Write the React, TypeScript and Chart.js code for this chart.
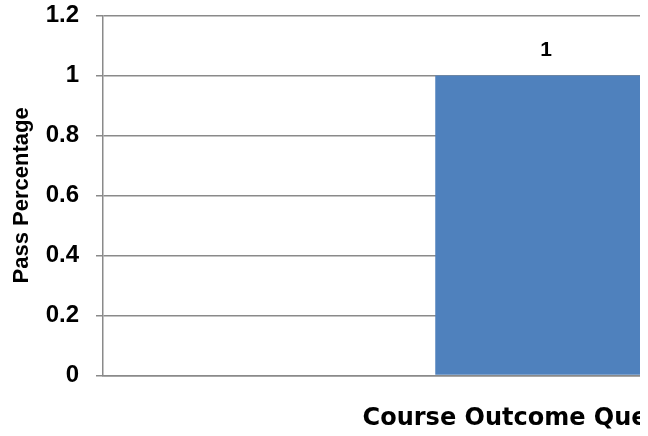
import React, { useEffect, useRef } from "react";
import { Chart, registerables } from "chart.js";

Chart.register(...registerables);

const categories: string[] = [""];
const passPercentage: number[] = [1];
const yTickLabels: string[] = ["0", "0.2", "0.4", "0.6", "0.8", "1", "1.2"];
const yAxisTitle = "Pass Percentage";
const xAxisTitle = "Course Outcome Questions";

const GRID = "#8a8a8a";

const valueLabels = {
  id: "valueLabels",
  afterDatasetsDraw(chart: any) {
    const ctx = chart.ctx;
    ctx.save();
    ctx.fillStyle = "#000";
    ctx.font = "bold 21px 'Liberation Sans', Arial, sans-serif";
    ctx.textAlign = "center";
    ctx.textBaseline = "middle";
    chart.data.datasets.forEach((ds: any, di: number) => {
      const meta = chart.getDatasetMeta(di);
      meta.data.forEach((el: any, i: number) => {
        ctx.fillText(String(ds.data[i]), el.x, el.y - 25);
      });
    });
    ctx.restore();
  },
};

export default function App() {
  const ref = useRef<HTMLCanvasElement | null>(null);
  useEffect(() => {
    if (!ref.current) return;
    const chart = new Chart(ref.current, {
      type: "bar",
      data: {
        labels: categories,
        datasets: [
          {
            data: passPercentage,
            backgroundColor: "#4F81BD",
            borderWidth: 0,
            barPercentage: 0.25,
            categoryPercentage: 1,
          },
        ],
      },
      options: {
        animation: false,
        responsive: true,
        maintainAspectRatio: false,
        layout: { padding: { top: 20, right: 19, bottom: 0, left: 0 } },
        plugins: {
          legend: { display: false },
          tooltip: { enabled: false },
        },
        scales: {
          x: {
            grid: { display: false, drawTicks: false },
            border: { display: true, color: GRID, width: 1.5 },
            ticks: { display: false },
            title: {
              display: true,
              text: xAxisTitle,
              color: "#000",
              font: { family: "'DejaVu Sans', Verdana, sans-serif", size: 24, weight: "bold", lineHeight: 1.2 },
              padding: { top: 28.6, bottom: 0 },
            },
          },
          y: {
            min: 0,
            max: 1.2,
            afterFit: (scale: any) => {
              scale.width = 95;
            },
            ticks: {
              stepSize: 0.2,
              padding: 17,
              color: "#000",
              font: { family: "'Liberation Sans', Arial, sans-serif", size: 24, weight: "bold" },
              callback: (_v: any, i: number) => yTickLabels[i],
            },
            grid: { color: GRID, lineWidth: 1.5, tickLength: 7, drawTicks: true },
            border: { display: true, color: GRID, width: 1.5 },
            title: {
              display: true,
              text: yAxisTitle,
              color: "#000",
              font: { family: "'Liberation Sans', Arial, sans-serif", size: 22, weight: "bold", lineHeight: 1 },
              padding: { top: 3, bottom: 0 },
            },
          },
        },
      },
      plugins: [valueLabels],
    });
    return () => chart.destroy();
  }, []);

  return (
    <div style={{ position: "fixed", left: 0, top: 0, width: 640, height: 436, overflow: "hidden", background: "#fff" }}>
      <div style={{ position: "absolute", left: 8, top: -16.4, width: 1000, height: 448.8 }}>
        <canvas ref={ref} />
      </div>
    </div>
  );
}
